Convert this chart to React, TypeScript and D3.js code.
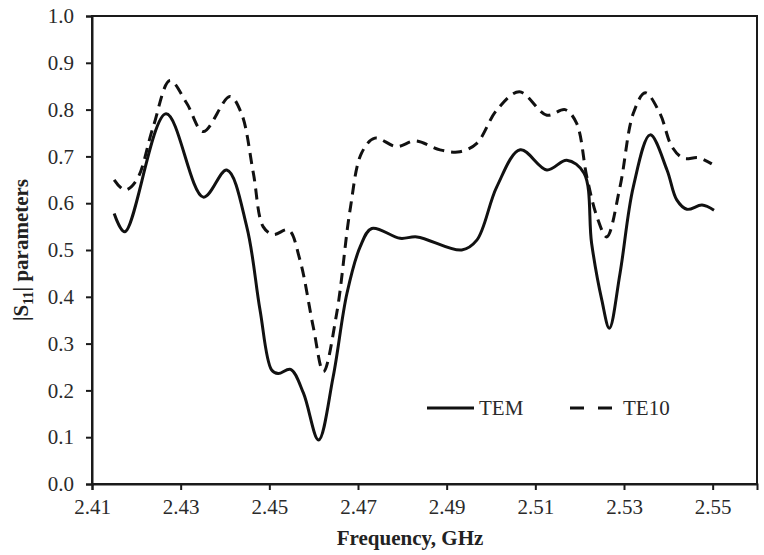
import React, { useEffect, useRef } from "react";
import * as d3 from "d3";

// frequency (GHz) for each sample, and |S11| for each mode
const temFreq = [2.415, 2.4174, 2.4267, 2.4351, 2.4404, 2.4449, 2.4479, 2.4505, 2.452, 2.4548, 2.4577, 2.4611, 2.4644, 2.4675, 2.4705, 2.4731, 2.4795, 2.4833, 2.4934, 2.4968, 2.5013, 2.5066, 2.5126, 2.5171, 2.521, 2.5227, 2.525, 2.5267, 2.5291, 2.5321, 2.5359, 2.5397, 2.5419, 2.5442, 2.5476, 2.5503];
const temS11 = [0.578, 0.539, 0.791, 0.613, 0.671, 0.55, 0.372, 0.244, 0.236, 0.245, 0.194, 0.094, 0.229, 0.407, 0.507, 0.546, 0.525, 0.528, 0.5, 0.521, 0.635, 0.714, 0.671, 0.692, 0.664, 0.514, 0.393, 0.333, 0.45, 0.635, 0.746, 0.671, 0.607, 0.587, 0.596, 0.585];

const te10Freq = [2.415, 2.4174, 2.4201, 2.4238, 2.4276, 2.4314, 2.4351, 2.4411, 2.4437, 2.4464, 2.4486, 2.4509, 2.4543, 2.4569, 2.4599, 2.4622, 2.4652, 2.4682, 2.4708, 2.4738, 2.4787, 2.4829, 2.4885, 2.493, 2.4968, 2.5013, 2.5064, 2.5126, 2.5167, 2.5193, 2.5216, 2.5239, 2.5261, 2.5291, 2.5321, 2.5348, 2.5381, 2.5408, 2.5434, 2.5468, 2.5498];
const te10S11 = [0.65, 0.628, 0.65, 0.763, 0.862, 0.813, 0.753, 0.828, 0.792, 0.664, 0.55, 0.533, 0.543, 0.479, 0.336, 0.24, 0.365, 0.585, 0.707, 0.739, 0.721, 0.733, 0.714, 0.71, 0.728, 0.799, 0.838, 0.788, 0.8, 0.771, 0.657, 0.571, 0.528, 0.635, 0.792, 0.836, 0.792, 0.721, 0.696, 0.697, 0.684];

const xTicks = [2.41, 2.43, 2.45, 2.47, 2.49, 2.51, 2.53, 2.55];
const yTicks = [0, 0.1, 0.2, 0.3, 0.4, 0.5, 0.6, 0.7, 0.8, 0.9, 1.0];

const App = () => {
  const ref = useRef<SVGSVGElement | null>(null);

  useEffect(() => {
    const svg = d3.select(ref.current);
    svg.selectAll("*").remove();

    const left = 92;
    const right = 757;
    const top = 16;
    const bottom = 484;
    const font = "Liberation Serif, Times New Roman, serif";

    const x = d3.scaleLinear().domain([2.41, 2.56]).range([left, right]);
    const y = d3.scaleLinear().domain([0, 1]).range([bottom, top]);

    // frame
    svg
      .append("rect")
      .attr("x", left)
      .attr("y", top)
      .attr("width", right - left)
      .attr("height", bottom - top)
      .attr("fill", "none")
      .attr("stroke", "#1a1a1a")
      .attr("stroke-width", 2);

    const xAxis = svg
      .append("g")
      .attr("transform", `translate(0,${bottom})`)
      .call(
        d3
          .axisBottom(x)
          .tickValues(xTicks)
          .tickSize(6)
          .tickPadding(9)
          .tickFormat(d3.format(".2f"))
      );

    const yAxis = svg
      .append("g")
      .attr("transform", `translate(${left},0)`)
      .call(
        d3
          .axisLeft(y)
          .tickValues(yTicks)
          .tickSize(6)
          .tickPadding(12)
          .tickFormat(d3.format(".1f"))
      );

    [xAxis, yAxis].forEach((g) => {
      g.attr("font-family", font).attr("font-size", 21);
      g.select(".domain").attr("stroke", "#1a1a1a").attr("stroke-width", 2);
      g.selectAll(".tick line").attr("stroke", "#1a1a1a").attr("stroke-width", 2);
      g.selectAll(".tick text").attr("fill", "#2a2a2a");
    });

    const line = d3
      .line<[number, number]>()
      .x((d) => x(d[0]))
      .y((d) => y(d[1]))
      .curve(d3.curveCatmullRom.alpha(0.5));

    const tem = temFreq.map((f, i) => [f, temS11[i]] as [number, number]);
    const te10 = te10Freq.map((f, i) => [f, te10S11[i]] as [number, number]);

    svg
      .append("path")
      .attr("d", line(tem))
      .attr("fill", "none")
      .attr("stroke", "#111")
      .attr("stroke-width", 3);

    svg
      .append("path")
      .attr("d", line(te10))
      .attr("fill", "none")
      .attr("stroke", "#111")
      .attr("stroke-width", 3)
      .attr("stroke-dasharray", "11,7");

    // legend
    const ly = 408;
    svg
      .append("line")
      .attr("x1", 427)
      .attr("x2", 474)
      .attr("y1", ly)
      .attr("y2", ly)
      .attr("stroke", "#111")
      .attr("stroke-width", 3);
    svg
      .append("text")
      .attr("x", 479)
      .attr("y", ly + 7)
      .attr("font-family", font)
      .attr("font-size", 21)
      .attr("fill", "#2a2a2a")
      .text("TEM");
    svg
      .append("line")
      .attr("x1", 570)
      .attr("x2", 612)
      .attr("y1", ly)
      .attr("y2", ly)
      .attr("stroke", "#111")
      .attr("stroke-width", 3)
      .attr("stroke-dasharray", "14,14");
    svg
      .append("text")
      .attr("x", 623)
      .attr("y", ly + 7)
      .attr("font-family", font)
      .attr("font-size", 21)
      .attr("fill", "#2a2a2a")
      .text("TE10");

    // axis titles
    svg
      .append("text")
      .attr("x", 410)
      .attr("y", 545)
      .attr("text-anchor", "middle")
      .attr("font-family", font)
      .attr("font-size", 21)
      .attr("font-weight", "bold")
      .attr("fill", "#222")
      .text("Frequency, GHz");

    const yt = svg
      .append("text")
      .attr("transform", `translate(28,${(top + bottom) / 2}) rotate(-90)`)
      .attr("text-anchor", "middle")
      .attr("font-family", font)
      .attr("font-size", 21)
      .attr("font-weight", "bold")
      .attr("fill", "#222");
    yt.append("tspan").text("|S");
    yt.append("tspan").attr("font-size", 14).attr("dy", 5).text("11");
    yt.append("tspan").attr("dy", -5).text("| parameters");
  }, []);

  return (
    <svg
      ref={ref}
      width={764}
      height={555}
      style={{ position: "absolute", left: 0, top: 0, background: "#fff" }}
    />
  );
};

export default App;
